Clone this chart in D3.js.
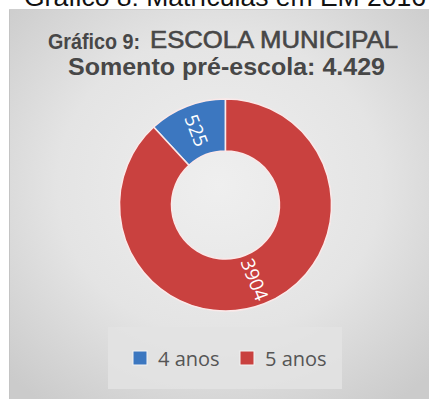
<!DOCTYPE html>
<html>
<head>
<meta charset="utf-8">
<script src="https://cdn.jsdelivr.net/npm/d3@7"></script>
<style>
  html, body { margin: 0; padding: 0; background: #fff; }
  svg { display: block; }
</style>
</head>
<body>
<svg id="chart" width="429" height="399"></svg>
<script>
// Enrolment data: pre-school pupils by age
const categories = ["4 anos", "5 anos"];
const values = [525, 3904];
const seriesColors = ["#3c77c0", "#c9413f"];

const captionText = "Gráfico 8: Matrículas em EM 2016";
const titlePrefix = "Gráfico 9:";
const titleMain = "ESCOLA MUNICIPAL";
const subtitleText = "Somento pré-escola: 4.429";

const W = 429, H = 399;
const svg = d3.select("#chart");

// Soft grey panel behind the chart
const defs = svg.append("defs");
const grad = defs.append("radialGradient")
  .attr("id", "panelFill")
  .attr("cx", "50%").attr("cy", "45%").attr("r", "70%");
grad.append("stop").attr("offset", "0%").attr("stop-color", "#efefef");
grad.append("stop").attr("offset", "55%").attr("stop-color", "#e4e4e4");
grad.append("stop").attr("offset", "100%").attr("stop-color", "#cbcbcb");

svg.append("rect")
  .attr("x", 9).attr("y", 9)
  .attr("width", W - 9).attr("height", H - 9)
  .attr("fill", "url(#panelFill)");
svg.append("line")
  .attr("x1", 9.5).attr("y1", 9).attr("x2", 9.5).attr("y2", H)
  .attr("stroke", "#c4c4c4").attr("stroke-width", 1);
svg.append("line")
  .attr("x1", 9).attr("y1", 9.5).attr("x2", W).attr("y2", 9.5)
  .attr("stroke", "#cfcfcf").attr("stroke-width", 1);

// Caption above the panel (runs off the top edge)
svg.append("text")
  .attr("x", 24).attr("y", 6)
  .attr("font-family", "Liberation Sans, Arial, sans-serif")
  .attr("font-size", 26.5)
  .attr("fill", "#111")
  .attr("textLength", 402)
  .attr("lengthAdjust", "spacingAndGlyphs")
  .text(captionText);

// Chart title
const titleColor = "#474747";
svg.append("text")
  .attr("x", 48).attr("y", 49)
  .attr("font-family", "Liberation Sans, Arial, sans-serif")
  .attr("font-weight", "bold")
  .attr("font-size", 21.5)
  .attr("fill", titleColor)
  .attr("textLength", 92)
  .attr("lengthAdjust", "spacingAndGlyphs")
  .text(titlePrefix);
svg.append("text")
  .attr("x", 150).attr("y", 48)
  .attr("font-family", "Liberation Sans, Arial, sans-serif")
  .attr("font-size", 24)
  .attr("fill", titleColor)
  .attr("stroke", titleColor).attr("stroke-width", 0.6)
  .attr("textLength", 248)
  .attr("lengthAdjust", "spacingAndGlyphs")
  .text(titleMain);
svg.append("text")
  .attr("x", 68).attr("y", 75)
  .attr("font-family", "Liberation Sans, Arial, sans-serif")
  .attr("font-weight", "bold")
  .attr("font-size", 24.5)
  .attr("fill", titleColor)
  .attr("textLength", 317)
  .attr("lengthAdjust", "spacingAndGlyphs")
  .text(subtitleText);

// Donut
const cx = 225.5, cy = 205;
const outerR = 106, innerR = 54;
const total = d3.sum(values);
const firstShare = values[0] / total * 2 * Math.PI;

const pie = d3.pie()
  .sort(null)
  .startAngle(-firstShare)
  .endAngle(2 * Math.PI - firstShare);
const arcs = pie(values);
const arc = d3.arc().innerRadius(innerR).outerRadius(outerR);
const labelArc = d3.arc().innerRadius((innerR + outerR) / 2).outerRadius((innerR + outerR) / 2);
const color = d3.scaleOrdinal().domain(categories).range(seriesColors);

const g = svg.append("g").attr("transform", `translate(${cx},${cy})`);
g.selectAll("path.slice")
  .data(arcs)
  .join("path")
  .attr("class", "slice")
  .attr("d", arc)
  .attr("fill", (d, i) => color(categories[i]))
  .attr("stroke", "#fbe9e9")
  .attr("stroke-width", 1.5);

// Value labels, rotated along the ring
g.selectAll("text.value")
  .data(arcs)
  .join("text")
  .attr("class", "value")
  .attr("transform", d => {
    const [x, y] = labelArc.centroid(d);
    const mid = (d.startAngle + d.endAngle) / 2 * 180 / Math.PI;
    let rot = mid - 90;
    while (rot > 90) rot -= 180;
    while (rot < -90) rot += 180;
    return `translate(${x},${y}) rotate(${rot})`;
  })
  .attr("text-anchor", "middle")
  .attr("dy", "0.36em")
  .attr("font-family", "Open Sans, DejaVu Sans, sans-serif")
  .attr("font-size", 19)
  .attr("fill", "#fff")
  .text(d => d.data);

// Legend
const legend = svg.append("g");
legend.append("rect")
  .attr("x", 108).attr("y", 327)
  .attr("width", 234).attr("height", 62)
  .attr("fill", "#e3e3e3").attr("opacity", 0.85);

const legendX = d3.scaleOrdinal().domain(categories).range([133, 240]);
const item = legend.selectAll("g.item")
  .data(categories)
  .join("g")
  .attr("class", "item")
  .attr("transform", d => `translate(${legendX(d)},351)`);
item.append("rect")
  .attr("width", 14).attr("height", 14)
  .attr("fill", d => color(d))
  .attr("stroke", "#f4f4f4").attr("stroke-width", 1);
item.append("text")
  .attr("x", 25).attr("y", 15)
  .attr("font-family", "Open Sans, DejaVu Sans, sans-serif")
  .attr("font-size", 20)
  .attr("fill", "#555")
  .text(d => d);
</script>
</body>
</html>
